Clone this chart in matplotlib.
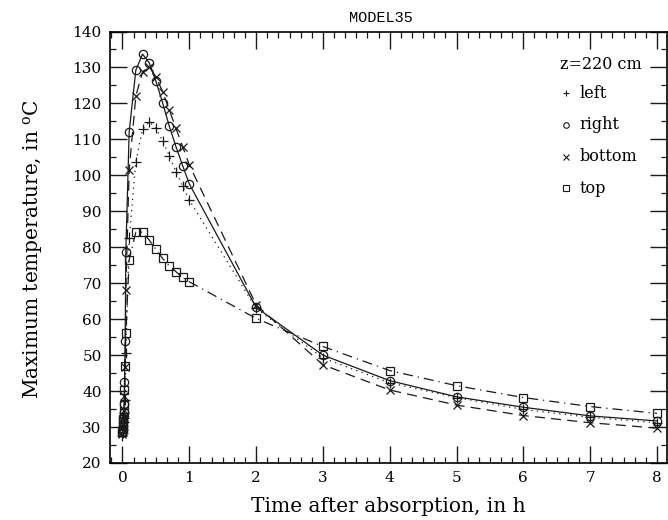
import matplotlib
matplotlib.use("Agg")
import matplotlib.pyplot as plt
from matplotlib.ticker import MultipleLocator

# tempos (h) e temperaturas maximas
t = [0.0, 0.005, 0.01, 0.015, 0.02, 0.025, 0.03, 0.04, 0.05, 0.1, 0.2, 0.3, 0.4,
     0.5, 0.6, 0.7, 0.8, 0.9, 1.0, 2, 3, 4, 5, 6, 7, 8]
left = [27.5, 28.3, 29.2, 30.2, 31.3, 32.5, 34.0, 37.5, 50.6, 82.5, 103.8, 112.8, 114.9,
        113.1, 109.6, 105.5, 101.0, 97.1, 93.1, 63.0, 49.2, 42.3, 38.2, 34.9, 32.7, 31.2]
right = [28.5, 29.5, 31.0, 32.5, 34.2, 36.5, 42.6, 54.0, 78.8, 112.1, 129.3, 133.7, 131.3,
         126.2, 120.2, 113.7, 108.0, 102.7, 97.6, 63.3, 50.0, 42.9, 38.4, 35.5, 33.1, 31.7]
bottom = [28.0, 29.0, 30.0, 31.2, 32.8, 34.8, 38.5, 46.8, 68.1, 101.5, 122.1, 128.8, 130.2,
          127.4, 123.3, 118.2, 113.1, 108.0, 102.9, 64.0, 47.3, 40.3, 36.1, 33.2, 31.2, 29.7]
top = [28.5, 29.5, 30.8, 32.3, 34.0, 36.0, 40.3, 47.0, 56.1, 76.5, 84.2, 84.2, 82.0,
       79.4, 76.9, 74.8, 73.2, 71.6, 70.4, 60.2, 52.4, 45.7, 41.5, 38.2, 35.7, 33.8]

labels = ["left", "right", "bottom", "top"]
marks = ["+", "o", "x", "s"]

plt.rcParams['font.family'] = 'DejaVu Serif'
plt.rcParams['mathtext.fontset'] = 'dejavuserif'

fig = plt.figure(figsize=(6.68, 5.2), dpi=100)
ax = fig.add_axes([110/668, 57/520, 557/668, 431.5/520])

cor = '#1a1a1a'
ax.plot(t, left, color=cor, lw=0.9, ls=(0, (1, 3.5)), marker='+', ms=7, mew=0.9)
ax.plot(t, right, color=cor, lw=0.9, ls='-', marker='o', ms=6, mfc='none', mew=0.9)
ax.plot(t, bottom, color=cor, lw=0.9, ls=(0, (8, 5)), marker='x', ms=6, mew=0.9)
ax.plot(t, top, color=cor, lw=0.9, ls=(0, (8, 4, 1, 4)), marker='s', ms=6, mfc='none', mew=0.9)

ax.set_xlim(-0.187, 8.15)
ax.set_ylim(20, 140)
ax.xaxis.set_major_locator(MultipleLocator(1))
ax.xaxis.set_minor_locator(MultipleLocator(1/6))
ax.yaxis.set_major_locator(MultipleLocator(10))
ax.yaxis.set_minor_locator(MultipleLocator(5))
ax.tick_params(which='both', direction='in', top=True, right=True, color=cor)
ax.tick_params(which='major', length=12.5, width=1.0, labelsize=11, pad=6)
ax.tick_params(which='minor', length=4.5, width=0.9)
for s in ax.spines.values():
    s.set_linewidth(1.2)

# rotulos dos eixos
fig.text(388/668, 1 - 507/520, "Time after absorption, in h", fontsize=14.5,
         ha='center', va='center')
fig.text(33/668, 1 - 249/520, "Maximum temperature, in $^{\\rm o}$C", fontsize=14.5,
         rotation=90, ha='center', va='center')
fig.text(381/668, 1 - 18/520, "MODEL35", family='Liberation Mono', fontsize=11,
         ha='center', va='center')

# legenda manual
ax.text(0.808, 0.923, "z=220 cm", transform=ax.transAxes, fontsize=11.5, va='center')
for i in range(4):
    yy = 0.857 - i*0.0735
    ax.plot([0.818], [yy], transform=ax.transAxes, color=cor, marker=marks[i], ms=4,
            mfc='none', mew=0.8)
    ax.text(0.843, yy, labels[i], transform=ax.transAxes, fontsize=11.5, va='center')

fig.savefig("out.png", dpi=100)
